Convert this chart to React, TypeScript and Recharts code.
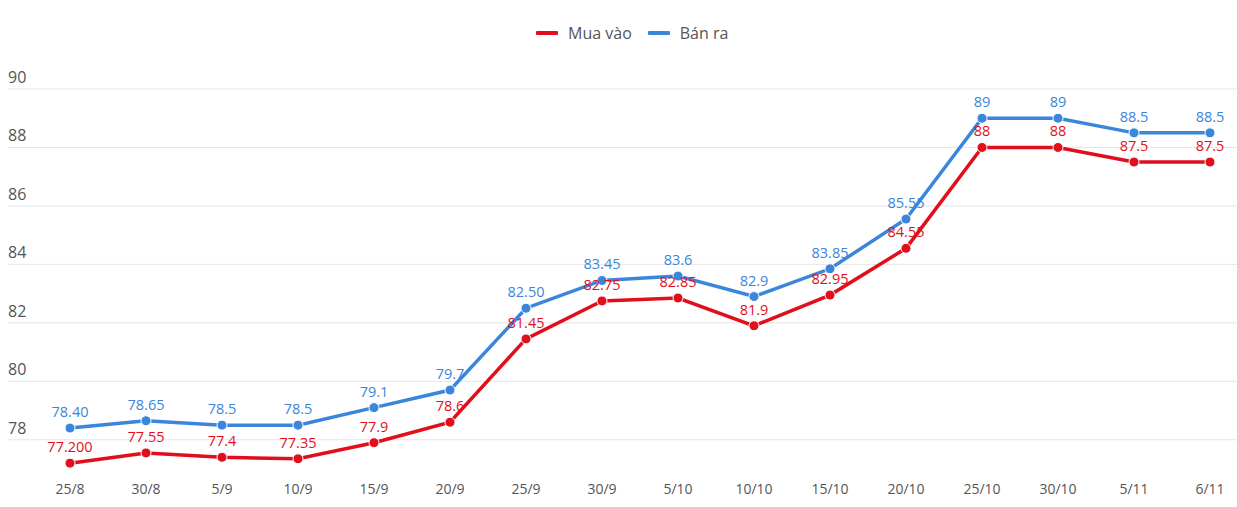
import React from "react";
import { LineChart, Line, XAxis, YAxis, CartesianGrid, LabelList } from "recharts";

const dates = ["25/8", "30/8", "5/9", "10/9", "15/9", "20/9", "25/9", "30/9", "5/10", "10/10", "15/10", "20/10", "25/10", "30/10", "5/11", "6/11"];
const buy = [77.2, 77.55, 77.4, 77.35, 77.9, 78.6, 81.45, 82.75, 82.85, 81.9, 82.95, 84.55, 88, 88, 87.5, 87.5];
const buyLabels = ["77.200", "77.55", "77.4", "77.35", "77.9", "78.6", "81.45", "82.75", "82.85", "81.9", "82.95", "84.55", "88", "88", "87.5", "87.5"];
const sell = [78.4, 78.65, 78.5, 78.5, 79.1, 79.7, 82.5, 83.45, 83.6, 82.9, 83.85, 85.55, 89, 89, 88.5, 88.5];
const sellLabels = ["78.40", "78.65", "78.5", "78.5", "79.1", "79.7", "82.50", "83.45", "83.6", "82.9", "83.85", "85.55", "89", "89", "88.5", "88.5"];
const yTicks = [78, 80, 82, 84, 86, 88, 90];

const RED = "#e10f1b";
const BLUE = "#3a86dc";
const FONT = "'Open Sans', sans-serif";

const data = dates.map((d, i) => ({
  date: d,
  buy: buy[i],
  sell: sell[i],
  buyLabel: buyLabels[i],
  sellLabel: sellLabels[i],
}));

const renderYTick = (props: any) => {
  const { y, payload } = props;
  return (
    <text x={8} y={y - 6} fill="#555" fontSize={16} fontFamily={FONT} textAnchor="start">
      {payload.value}
    </text>
  );
};

const LegendItem = ({ color, text }: { color: string; text: string }) => (
  <div style={{ display: "flex", alignItems: "center", marginRight: 16 }}>
    <div style={{ width: 22, height: 4, background: color, borderRadius: 1, marginRight: 10 }} />
    <span style={{ fontFamily: FONT, fontSize: 16, color: "#555" }}>{text}</span>
  </div>
);

export default function App() {
  return (
    <div style={{ position: "absolute", left: 0, top: 0, width: 1237, height: 507, background: "#fff" }}>
      <div style={{ position: "absolute", top: 21, left: 536, display: "flex", height: 24 }}>
        <LegendItem color={RED} text="Mua vào" />
        <LegendItem color={BLUE} text="Bán ra" />
      </div>
      <LineChart width={1237} height={507} data={data} margin={{ top: 89, right: 0, bottom: 0, left: 7 }}>
        <CartesianGrid vertical={false} stroke="#e6e6e6" horizontalValues={yTicks} />
        <XAxis
          dataKey="date"
          axisLine={false}
          tickLine={false}
          height={38}
          padding={{ left: 62, right: 27 }}
          tick={{ fill: "#555", fontSize: 14, fontFamily: FONT }}
          tickMargin={9}
          interval={0}
        />
        <YAxis
          width={1}
          domain={[77, 90]}
          ticks={yTicks}
          axisLine={false}
          tickLine={false}
          tick={renderYTick}
          interval={0}
          allowDataOverflow
        />
        <Line
          type="linear"
          dataKey="sell"
          stroke={BLUE}
          strokeWidth={3.5}
          dot={{ r: 5, fill: BLUE, stroke: "#fff", strokeWidth: 1 }}
          isAnimationActive={false}
        >
          <LabelList dataKey="sellLabel" position="top" offset={11} fill={BLUE} fontSize={14.5} fontFamily={FONT} />
        </Line>
        <Line
          type="linear"
          dataKey="buy"
          stroke={RED}
          strokeWidth={3.5}
          dot={{ r: 5, fill: RED, stroke: "#fff", strokeWidth: 1 }}
          isAnimationActive={false}
        >
          <LabelList dataKey="buyLabel" position="top" offset={11} fill={RED} fontSize={14.5} fontFamily={FONT} />
        </Line>
      </LineChart>
    </div>
  );
}
